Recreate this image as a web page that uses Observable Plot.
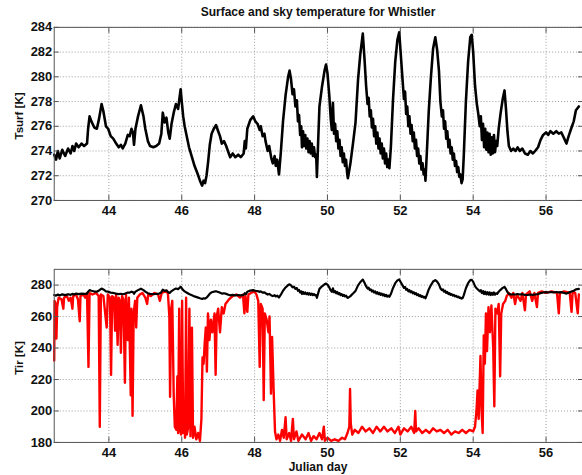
<!DOCTYPE html>
<html><head><meta charset="utf-8">
<script src="https://cdn.jsdelivr.net/npm/d3@7"></script>
<script src="https://cdn.jsdelivr.net/npm/@observablehq/plot@0.6"></script>
<style>
html,body{margin:0;padding:0;background:#fff;overflow:hidden;}
#chart{position:relative;width:582px;height:475px;overflow:hidden;font-family:"Liberation Sans",Arial,Helvetica,sans-serif;font-weight:bold;color:#111;}
#chart svg{position:absolute;left:0;}
.lbl{position:absolute;white-space:nowrap;line-height:14px;}
</style></head><body><div id="chart"></div>
<script>
// ---- data ----
// surface temperature: [julian day, K]
const tsurfSeries = [[42.50,273.7],[42.55,273.3],[42.60,274.0],[42.65,273.4],[42.72,274.1],[42.80,273.6],[42.88,274.2],[42.95,273.8],[43.00,274.4],[43.05,274.0],[43.10,274.6],[43.17,274.3],[43.25,274.6],[43.32,274.4],[43.40,274.6],[43.43,275.8],[43.47,276.8],[43.52,276.4],[43.60,275.9],[43.67,275.8],[43.73,276.6],[43.80,277.8],[43.85,277.2],[43.92,276.0],[43.98,275.8],[44.05,275.2],[44.12,275.0],[44.20,274.6],[44.27,274.3],[44.33,274.5],[44.38,274.2],[44.45,274.6],[44.52,275.3],[44.57,275.2],[44.62,275.8],[44.66,275.5],[44.69,274.5],[44.73,275.8],[44.80,276.8],[44.88,277.7],[44.95,276.8],[45.00,275.8],[45.07,274.8],[45.13,274.4],[45.22,274.3],[45.30,274.4],[45.38,274.6],[45.44,275.4],[45.48,277.1],[45.53,276.3],[45.58,276.7],[45.63,275.5],[45.67,275.0],[45.72,276.2],[45.78,277.1],[45.84,277.8],[45.90,277.4],[45.97,279.0],[46.00,278.0],[46.04,276.8],[46.08,276.0],[46.13,275.3],[46.20,274.3],[46.28,273.5],[46.35,272.8],[46.43,272.2],[46.50,271.6],[46.56,271.2],[46.60,271.6],[46.64,271.4],[46.68,272.0],[46.72,273.0],[46.77,274.5],[46.82,275.4],[46.88,275.8],[46.94,276.1],[47.00,275.6],[47.05,275.2],[47.10,274.6],[47.16,274.8],[47.22,274.4],[47.28,273.9],[47.33,273.5],[47.40,273.8],[47.47,273.5],[47.55,273.7],[47.62,273.5],[47.70,273.8],[47.73,274.8],[47.76,274.2],[47.80,275.8],[47.88,276.5],[47.96,276.8],[48.02,276.4],[48.08,276.2],[48.14,275.7],[48.17,276.0],[48.22,275.2],[48.27,275.4],[48.30,274.8],[48.36,274.0],[48.40,274.4],[48.46,273.4],[48.50,273.0],[48.55,273.6],[48.58,272.8],[48.62,273.3],[48.67,272.1],[48.72,273.9],[48.78,276.4],[48.85,278.5],[48.92,280.0],[48.96,280.5],
[49.00,279.8],[49.04,278.6],[49.08,279.0],[49.12,277.6],[49.16,278.1],[49.19,276.4],[49.22,276.9],[49.25,275.3],[49.28,276.0],[49.30,274.3],[49.33,275.6],[49.36,274.4],[49.39,275.3],[49.42,274.2],[49.45,275.0],[49.48,273.9],[49.51,274.8],[49.54,273.8],[49.57,274.6],[49.60,273.6],[49.63,274.3],[49.66,273.5],[49.69,273.7],[49.71,271.9],[49.74,274.4],[49.78,277.6],[49.85,279.2],[49.92,280.5],[49.96,281.0],[50.00,280.3],
[50.05,278.5],[50.09,276.6],[50.12,275.7],[50.15,277.9],[50.18,275.4],[50.21,276.2],[50.24,274.8],[50.27,275.6],[50.30,274.2],[50.33,274.9],[50.36,273.6],[50.39,274.3],[50.42,273.1],[50.45,273.8],[50.48,272.8],[50.51,273.3],[50.54,272.2],[50.56,271.8],[50.59,272.3],[50.63,273.0],[50.70,274.6],[50.77,276.3],[50.84,279.8],[50.90,281.8],[50.97,283.5],
[51.02,281.3],[51.06,279.3],[51.10,277.8],[51.13,278.3],[51.16,276.8],[51.19,277.3],[51.22,275.9],[51.25,276.6],[51.28,275.2],[51.31,276.0],[51.34,274.6],[51.37,275.5],[51.40,274.2],[51.43,275.0],[51.46,273.8],[51.49,274.6],[51.52,273.4],[51.55,274.2],[51.58,273.0],[51.61,273.8],[51.64,272.7],[51.67,273.3],[51.70,272.6],[51.74,274.3],[51.80,278.2],[51.86,281.2],[51.92,283.0],[51.97,283.6],
[52.02,281.5],[52.06,279.8],[52.10,278.2],[52.13,278.8],[52.16,277.0],[52.19,277.6],[52.22,276.0],[52.25,276.8],[52.28,275.4],[52.31,276.1],[52.34,274.8],[52.37,275.5],[52.40,274.2],[52.43,274.9],[52.46,273.6],[52.49,274.2],[52.52,273.0],[52.55,273.6],[52.58,272.5],[52.61,273.0],[52.64,272.1],[52.67,272.5],[52.69,271.6],[52.73,274.0],[52.78,277.2],[52.84,280.0],[52.90,282.3],[52.96,283.2],
[53.01,282.2],[53.06,280.5],[53.10,278.0],[53.14,276.8],[53.17,277.3],[53.20,275.8],[53.23,276.4],[53.26,275.0],[53.29,275.6],[53.32,274.3],[53.35,274.9],[53.38,273.8],[53.41,274.3],[53.44,273.3],[53.47,273.8],[53.50,272.8],[53.53,273.2],[53.56,272.3],[53.59,272.7],[53.62,271.9],[53.65,272.1],[53.68,271.4],[53.71,271.7],[53.74,273.5],[53.80,278.0],[53.86,281.2],[53.92,283.2],[53.96,283.4],
[54.00,282.0],[54.05,279.3],[54.10,277.8],[54.14,277.0],[54.18,276.0],[54.21,276.8],[54.24,274.9],[54.27,276.2],[54.30,274.3],[54.33,275.8],[54.36,274.1],[54.39,275.5],[54.42,273.9],[54.45,275.4],[54.48,273.7],[54.51,275.1],[54.54,273.8],[54.57,275.3],[54.60,273.9],[54.63,274.8],[54.66,274.4],[54.70,275.8],[54.75,277.0],[54.81,278.2],[54.86,278.9],[54.90,277.4],[54.94,275.6],[54.98,274.4],[55.04,274.0],[55.10,274.2],[55.16,274.0],[55.22,274.3],[55.28,274.0],[55.35,274.2],[55.42,273.8],[55.50,273.7],[55.57,274.0],[55.64,273.8],[55.70,274.0],[55.78,274.3],[55.85,274.9],[55.92,275.3],[56.00,275.5],[56.06,275.3],[56.12,275.6],[56.20,275.4],[56.28,275.6],[56.35,275.4],[56.42,275.5],[56.50,275.0],[56.56,274.6],[56.62,275.2],[56.70,275.9],[56.76,276.4],[56.82,277.3],[56.90,277.6]];
// sky (infrared) temperature
const tirDay = [42.50,42.51,42.54,42.56,42.58,42.62,42.70,42.75,42.77,42.85,42.90,42.95,43.00,43.02,43.10,43.15,43.20,43.22,43.30,43.35,43.40,43.44,43.47,43.55,43.65,43.72,43.75,43.78,43.85,43.94,43.97,44.03,44.06,44.09,44.14,44.17,44.20,44.24,44.27,44.30,44.33,44.36,44.40,44.44,44.47,44.52,44.55,44.60,44.62,44.65,44.68,44.72,44.75,44.78,44.85,44.92,45.00,45.05,45.08,45.15,45.25,45.35,45.40,45.45,45.55,45.62,45.66,45.68,45.71,45.74,45.78,45.81,45.85,45.88,45.90,45.93,45.95,45.98,46.01,46.04,46.07,46.09,46.12,46.14,46.18,46.21,46.24,46.28,46.31,46.35,46.40,46.45,46.50,46.54,46.57,46.60,46.63,46.66,46.69,46.72,46.76,46.80,46.84,46.90,46.93,46.96,47.00,47.05,47.10,47.15,47.20,47.30,47.40,47.50,47.60,47.68,47.72,47.75,47.80,47.83,47.90,48.00,48.05,48.10,48.14,48.17,48.22,48.25,48.28,48.33,48.38,48.41,48.45,48.48,48.52,48.56,48.60,48.65,48.70,48.75,48.80,48.85,48.88,48.95,49.00,49.05,49.08,49.15,49.20,49.30,49.40,49.48,49.55,49.62,49.70,49.78,49.85,49.90,49.93,50.00,50.10,50.20,50.30,50.40,50.48,50.55,50.60,50.62,50.64,50.68,50.75,50.85,50.95,51.05,51.15,51.25,51.35,51.45,51.55,51.65,51.75,51.85,51.95,52.00,52.10,52.20,52.30,52.38,52.41,52.43,52.50,52.60,52.70,52.80,52.90,53.00,53.10,53.20,53.30,53.40,53.50,53.60,53.70,53.80,53.90,54.00,54.05,54.09,54.12,54.15,54.20,54.23,54.26,54.29,54.32,54.35,54.38,54.42,54.46,54.50,54.55,54.58,54.61,54.66,54.70,54.74,54.77,54.82,54.88,54.92,54.98,55.05,55.10,55.15,55.20,55.30,55.35,55.42,55.45,55.55,55.62,55.68,55.75,55.78,55.88,56.00,56.15,56.30,56.35,56.38,56.50,56.65,56.70,56.73,56.80,56.87,56.90];
const tirK = [232,270,268,246,266,272,271,265,272,273,270,272,265,273,274,271,257,273,274,272,275,228,275,274,275,273,190,274,273,253,274,272,223,273,272,251,274,242,272,270,237,273,271,218,274,245,272,210,265,197,262,270,253,272,274,275,272,268,274,273,275,274,270,275,276,275,260,209,265,270,210,190,188,222,186,265,189,185,270,186,200,183,272,185,190,265,184,253,183,190,182,186,181,195,234,230,243,253,225,262,245,258,250,262,223,260,265,250,266,262,268,271,273,274,272,274,262,273,263,274,275,276,274,270,228,268,265,207,262,258,250,260,211,247,215,187,182,185,181,188,183,196,182,186,181,195,182,187,181,185,182,186,181,184,182,186,182,190,181,183,181,182,181,183,182,186,190,214,192,185,188,186,190,187,189,186,190,187,190,187,189,186,190,185,189,187,190,186,200,187,189,186,188,186,189,187,188,186,188,185,187,186,188,186,188,187,190,200,213,195,235,200,186,248,230,262,238,266,250,267,240,203,265,262,268,222,262,268,270,273,275,272,275,268,274,270,275,264,274,276,270,275,266,275,276,275,276,275,262,275,276,275,263,276,275,262,274];
const xTicks = [44, 46, 48, 50, 52, 54, 56];
const topYTicks = [270, 272, 274, 276, 278, 280, 282, 284];
const botYTicks = [180, 200, 220, 240, 260, 280];
const titleText = "Surface and sky temperature for Whistler";
const topYLabel = "Tsurf [K]";
const botYLabel = "Tir [K]";
const xLabel = "Julian day";

// ---- build tables ----
const tsurf = tsurfSeries.map(([d, t]) => ({day: d, T: t}));
const tir = tirDay.map((d, i) => ({day: d, T: tirK[i]}));

const font = {fontFamily: '"Liberation Sans", Arial, Helvetica, sans-serif', fontWeight: "bold", fontSize: "13px", color: "#111", background: "transparent", overflow: "visible"};

function panel({yDomain, yTicks, height, marginTop, marginBottom, marks}) {
  return Plot.plot({
    width: 585, height, marginLeft: 54, marginRight: 0, marginTop, marginBottom,
    style: font,
    x: {domain: [42.5, 57], axis: null, label: null},
    y: {domain: yDomain, axis: null, label: null},
    marks: [
      Plot.gridX(xTicks, {stroke: "#9a9a9a", strokeOpacity: 1, strokeDasharray: "1,2"}),
      Plot.gridY(yTicks, {stroke: "#9a9a9a", strokeOpacity: 1, strokeDasharray: "1,2"}),
      ...marks,
      Plot.frame({stroke: "#555"}),
      Plot.axisX(xTicks, {anchor: "bottom", tickSize: -5, tickPadding: 10, label: null, stroke: "#555"}),
      Plot.axisX(xTicks, {anchor: "top", tickSize: -5, tickFormat: () => "", label: null, stroke: "#555"}),
      Plot.axisY(yTicks, {anchor: "left", tickSize: -5, tickPadding: 7, label: null, stroke: "#555"}),
      Plot.axisY(yTicks, {anchor: "right", tickSize: -5, tickFormat: () => "", label: null, stroke: "#555"})
    ]
  });
}

const chart = document.getElementById("chart");

const top1 = panel({
  yDomain: [270, 284], yTicks: topYTicks, height: 220, marginTop: 27, marginBottom: 19,
  marks: [Plot.line(tsurf, {x: "day", y: "T", stroke: "#000", strokeWidth: 2.6})]
});
top1.style.top = "0px";
chart.appendChild(top1);

const bot = panel({
  yDomain: [180, 290], yTicks: botYTicks, height: 235, marginTop: 29, marginBottom: 32,
  marks: [
    Plot.line(tir, {x: "day", y: "T", stroke: "#ff0000", strokeWidth: 2.4}),
    Plot.line(tsurf, {x: "day", y: "T", stroke: "#000", strokeWidth: 2.2})
  ]
});
bot.style.top = "240px";
chart.appendChild(bot);

function label(text, css) {
  const d = document.createElement("div");
  d.className = "lbl";
  d.textContent = text;
  Object.assign(d.style, css);
  chart.appendChild(d);
}
label(titleText, {left: "54px", width: "528px", textAlign: "center", top: "5px", fontSize: "12px"});
label(xLabel, {left: "54px", width: "528px", textAlign: "center", top: "462px", fontSize: "12px", lineHeight: "10px"});
label(topYLabel, {left: "19px", top: "116px", fontSize: "11.5px", transform: "translate(-50%,-50%) rotate(-90deg)"});
label(botYLabel, {left: "19px", top: "358px", fontSize: "11.5px", transform: "translate(-50%,-50%) rotate(-90deg)"});
</script>
</body></html>
